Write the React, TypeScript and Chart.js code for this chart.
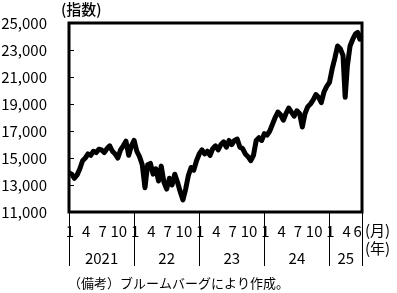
import { useEffect, useRef } from "react";
import { Chart, registerables } from "chart.js";

Chart.register(...registerables);

// months elapsed since Jan 2021
const monthPos = [
  0, 0.5, 1, 1.5, 2, 2.5, 3, 3.5, 4, 4.5, 5, 5.5, 6, 6.5, 7, 7.5, 8, 8.5, 9, 9.5,
  10, 10.5, 11, 11.5, 12, 12.5, 13, 13.5, 14, 14.5, 15, 15.5, 16, 16.5, 17, 17.5,
  18, 18.5, 19, 19.5, 20, 20.5, 21, 21.5, 22, 22.5, 23, 23.5, 24, 24.5, 25, 25.5,
  26, 26.5, 27, 27.5, 28, 28.5, 29, 29.5, 30, 30.5, 31, 31.5, 32, 32.5, 33, 33.5,
  34, 34.5, 35, 35.5, 36, 36.5, 37, 37.5, 38, 38.5, 39, 39.5, 40, 40.5, 41, 41.5,
  42, 42.5, 43, 43.5, 44, 44.5, 45, 45.5, 46, 46.5, 47, 47.5, 48, 48.5, 49, 49.5,
  50, 50.5, 50.9, 51.3, 51.8, 52.3, 52.8, 53.2, 53.6, 53.9,
];

const indexValues = [
  13900, 13800, 13500, 13750, 14200, 14800, 15000, 15300, 15200, 15500, 15400, 15650,
  15600, 15400, 15700, 15900, 15500, 15300, 15000, 15600, 15900, 16250, 15200, 15900,
  16300, 15500, 15100, 14500, 12800, 14500, 14600, 13800, 14200, 13300, 14400, 13200,
  12700, 13500, 13000, 13800, 13200, 12500, 11900, 12700, 13700, 14300, 14100, 14800,
  15300, 15600, 15300, 15500, 15200, 15700, 15900, 15600, 16000, 16200, 15800, 16300,
  16000, 16300, 16400, 15800, 15700, 15300, 15100, 14800, 15200, 16300, 16500, 16300,
  16800, 16700, 17000, 17500, 18000, 18400, 18200, 17800, 18300, 18700, 18400, 18100,
  18500, 18300, 17300, 18300, 18800, 19000, 19300, 19700, 19500, 19100, 19900, 20300,
  20600, 21600, 22400, 23300, 23100, 22600, 19500, 21800, 23300, 23800, 24200, 24300,
  23800, 24100,
];

const yTicks = [11000, 13000, 15000, 17000, 19000, 21000, 23000, 25000];
const yearLabels = ["2021", "22", "23", "24", "25"];
const yearStarts = [0, 12, 24, 36, 48];
const yearEnds = [12, 24, 36, 48, 54];
const monthLabels = [
  [1, 4, 7, 10],
  [1, 4, 7, 10],
  [1, 4, 7, 10],
  [1, 4, 7, 10],
  [1, 4, 6],
];

const FONT = '"Noto Sans CJK JP", "Noto Sans", sans-serif';

const decorPlugin = {
  id: "decor",
  afterDraw(chart: any) {
    const { ctx, chartArea: a } = chart;
    const xs = chart.scales.x;
    const ys = chart.scales.y;
    ctx.save();
    ctx.strokeStyle = "#000";
    ctx.fillStyle = "#000";
    // frame
    ctx.lineWidth = 3;
    ctx.strokeRect(a.left, a.top, a.right - a.left, a.bottom - a.top);
    // inward ticks
    ctx.lineWidth = 1;
    yTicks.forEach((v) => {
      if (v === yTicks[0] || v === yTicks[yTicks.length - 1]) return;
      const py = Math.round(ys.getPixelForValue(v)) + 0.5;
      ctx.beginPath();
      ctx.moveTo(a.left, py);
      ctx.lineTo(a.left + 5, py);
      ctx.stroke();
    });
    // year separators
    const bounds = [...yearStarts, yearEnds[yearEnds.length - 1]];
    bounds.forEach((b) => {
      const px = Math.round(xs.getPixelForValue(b)) + 0.5;
      ctx.beginPath();
      ctx.moveTo(px, a.bottom);
      ctx.lineTo(px, a.bottom + 54);
      ctx.stroke();
    });
    // month labels
    ctx.font = `15px ${FONT}`;
    ctx.textAlign = "center";
    ctx.textBaseline = "middle";
    monthLabels.forEach((ms, i) => {
      ms.forEach((m) => {
        const px = xs.getPixelForValue(yearStarts[i] + m - 1);
        ctx.fillText(String(m), px + 1, a.bottom + 19);
      });
    });
    // year labels
    yearLabels.forEach((lab, i) => {
      const px = xs.getPixelForValue((yearStarts[i] + yearEnds[i]) / 2);
      ctx.fillText(lab, px, a.bottom + 46);
    });
    // unit labels
    ctx.textAlign = "left";
    ctx.fillText("(月)", a.right + 3, a.bottom + 18);
    ctx.fillText("(年)", a.right + 3, a.bottom + 36);
    ctx.font = `500 15px ${FONT}`;
    ctx.fillText("(指数)", 61, 9);
    // footnote
    ctx.font = `13px ${FONT}`;
    ctx.fillText("（備考）ブルームバーグにより作成。", 68, 283);
    ctx.restore();
  },
};

export default function App() {
  const ref = useRef<HTMLCanvasElement | null>(null);
  useEffect(() => {
    if (!ref.current) return;
    const data = monthPos.map((x, i) => ({ x, y: indexValues[i] }));
    const chart = new Chart(ref.current, {
      type: "line",
      data: {
        datasets: [
          {
            data,
            borderColor: "#000",
            borderWidth: 5,
            pointRadius: 0,
            tension: 0,
            borderJoinStyle: "round",
            borderCapStyle: "round",
          },
        ],
      },
      options: {
        animation: false,
        responsive: false,
        devicePixelRatio: 1,
        layout: { padding: { left: 0, right: 35, top: 20, bottom: 0 } },
        plugins: { legend: { display: false }, tooltip: { enabled: false } },
        scales: {
          x: {
            type: "linear",
            min: 0,
            max: 54,
            grid: { display: false },
            border: { display: false },
            ticks: { display: false },
            afterFit: (s: any) => {
              s.height = 81;
            },
          },
          y: {
            min: 11000,
            max: 25000,
            grid: { display: false },
            border: { display: false },
            ticks: {
              stepSize: 2000,
              padding: 14,
              color: "#000",
              font: { family: FONT, size: 15 },
              callback: (v: any) => Number(v).toLocaleString("en-US"),
            },
            afterFit: (s: any) => {
              s.width = 69;
            },
          },
        },
      },
      plugins: [decorPlugin],
    });
    return () => chart.destroy();
  }, []);
  return (
    <div style={{ position: "absolute", left: 0, top: 0, width: 397, height: 293, background: "#fff" }}>
      <canvas ref={ref} width={397} height={293} />
    </div>
  );
}
